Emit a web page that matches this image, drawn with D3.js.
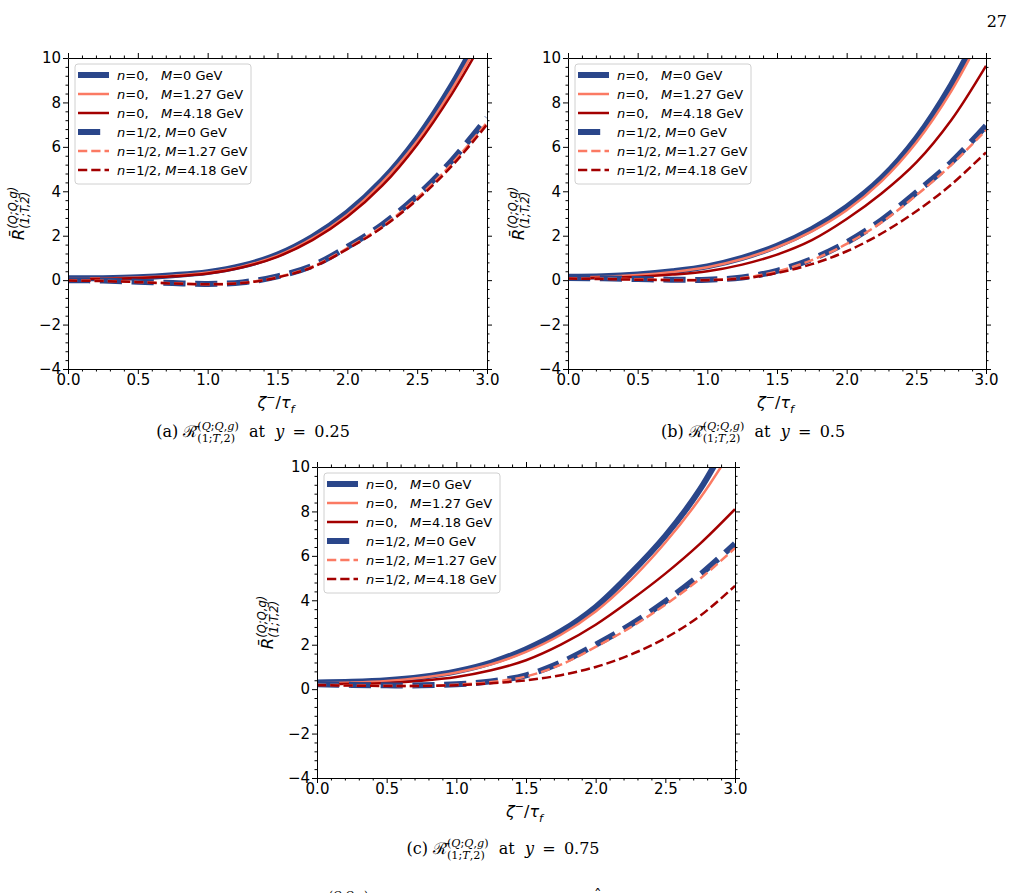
<!DOCTYPE html>
<html>
<head>
<meta charset="utf-8">
<script src="https://cdn.jsdelivr.net/npm/d3@7"></script>
<style>
  body { margin: 0; background: #fff; }
  svg { display: block; }
  text { white-space: pre; }
</style>
</head>
<body>
<svg id="fig" width="1013" height="893"></svg>
<script>
// zeta^- / tau_f grid shared by all curves
const xs = [0, 0.25, 0.5, 0.75, 1.0, 1.25, 1.5, 1.75, 2.0, 2.25, 2.5, 2.75, 3.0];

// (a) y = 0.25
const aN0M0    = [0.08, 0.09, 0.13, 0.22, 0.36, 0.65, 1.15, 1.95, 3.05, 4.5, 6.4, 8.8, 11.7];
const aN0M127  = [0.07, 0.08, 0.12, 0.2, 0.34, 0.62, 1.1, 1.88, 2.95, 4.4, 6.25, 8.6, 11.4];
const aN0M418  = [0.05, 0.06, 0.1, 0.17, 0.3, 0.58, 1.05, 1.8, 2.85, 4.25, 6.1, 8.4, 11.1];
const aN12M0   = [0.0, -0.02, -0.07, -0.13, -0.17, -0.1, 0.17, 0.65, 1.5, 2.5, 3.8, 5.4, 7.3];
const aN12M127 = [-0.01, -0.03, -0.08, -0.14, -0.18, -0.12, 0.14, 0.61, 1.44, 2.42, 3.7, 5.25, 7.1];
const aN12M418 = [-0.02, -0.04, -0.09, -0.15, -0.19, -0.13, 0.12, 0.58, 1.4, 2.37, 3.62, 5.15, 7.0];

// (b) y = 0.5
const bN0M0    = [0.15, 0.17, 0.25, 0.4, 0.62, 1.0, 1.55, 2.3, 3.3, 4.6, 6.4, 8.8, 11.8];
const bN0M127  = [0.13, 0.15, 0.23, 0.37, 0.58, 0.95, 1.48, 2.2, 3.15, 4.45, 6.2, 8.5, 11.4];
const bN0M418  = [0.1, 0.11, 0.15, 0.25, 0.4, 0.7, 1.15, 1.8, 2.75, 3.9, 5.3, 7.2, 9.65];
const bN12M0   = [0.1, 0.08, 0.05, 0.02, 0.02, 0.12, 0.42, 0.95, 1.7, 2.7, 3.95, 5.3, 6.95];
const bN12M127 = [0.08, 0.06, 0.04, 0.01, 0.01, 0.1, 0.39, 0.9, 1.63, 2.6, 3.82, 5.18, 6.75];
const bN12M418 = [0.07, 0.05, 0.02, 0.0, 0.0, 0.07, 0.32, 0.72, 1.3, 2.1, 3.1, 4.3, 5.75];

// (c) y = 0.75
const cN0M0    = [0.3, 0.33, 0.4, 0.55, 0.8, 1.2, 1.8, 2.6, 3.7, 5.2, 6.9, 9.0, 11.8];
const cN0M127  = [0.27, 0.3, 0.37, 0.51, 0.75, 1.12, 1.68, 2.45, 3.5, 4.9, 6.6, 8.6, 11.0];
const cN0M418  = [0.22, 0.24, 0.28, 0.38, 0.55, 0.85, 1.3, 2.0, 2.9, 4.0, 5.2, 6.55, 8.1];
const cN12M0   = [0.22, 0.19, 0.17, 0.17, 0.22, 0.35, 0.62, 1.2, 2.0, 2.9, 3.95, 5.15, 6.55];
const cN12M127 = [0.2, 0.17, 0.15, 0.15, 0.2, 0.32, 0.57, 1.1, 1.9, 2.78, 3.8, 4.97, 6.35];
const cN12M418 = [0.18, 0.16, 0.14, 0.14, 0.18, 0.26, 0.4, 0.63, 1.0, 1.55, 2.3, 3.3, 4.65];

const xTicks = [0, 0.5, 1.0, 1.5, 2.0, 2.5, 3.0];
const yTicks = [-4, -2, 0, 2, 4, 6, 8, 10];
const legendN = ["0", "0", "0", "1/2", "1/2", "1/2"];
const legendM = ["0", "1.27", "4.18", "0", "1.27", "4.18"];
const captionY = ["0.25", "0.5", "0.75"];
const captionTag = ["(a)", "(b)", "(c)"];

const blue = "#2a468a", salmon = "#fb7a63", dark = "#a30000";
const styles = [
  { color: blue,   width: 6,   dash: null },
  { color: salmon, width: 2.5, dash: null },
  { color: dark,   width: 2.5, dash: null },
  { color: blue,   width: 6,   dash: "22.2,9.6" },
  { color: salmon, width: 2.5, dash: "9.25,4" },
  { color: dark,   width: 2.5, dash: "9.25,4" }
];

const SANS = "DejaVu Sans", SERIF = "DejaVu Serif";
const svg = d3.select("#fig");

// writes a run of tspans; parts: {t, i: italic, s: "sup"|"sub", back: first sub part stacked under the sup run}
function mathText(parent, parts, size, family) {
  const t = parent.append("text").attr("font-size", size).style("font-family", family || SANS);
  let cur = 0, supRun = 0, subRun = 0, mode = null, stacked = false;
  parts.forEach(p => {
    const fs = p.s ? size * 0.7 : size;
    const target = p.s === "sup" ? -size * 0.42 : p.s === "sub" ? size * 0.3 : 0;
    const sp = t.append("tspan").text(p.t).attr("font-size", fs);
    if (p.i) sp.style("font-style", "italic");
    if (target !== cur) sp.attr("dy", target - cur);
    cur = target;
    let dx = 0;
    if (p.back) { dx -= supRun; subRun = 0; stacked = true; }
    else if (!p.s && stacked) { dx += Math.max(0, supRun - subRun); stacked = false; }
    if (dx) sp.attr("dx", dx);
    const len = sp.node().getComputedTextLength();
    if (p.s === "sup") { if (mode !== "sup") supRun = 0; supRun += len; }
    if (p.s === "sub") subRun += len;
    mode = p.s || null;
  });
  return t;
}

function centerText(t, cx, y) {
  const w = t.node().getBBox().width;
  t.attr("x", cx - w / 2).attr("y", y);
}

// superscript / subscript pieces of R^(Q;Q,g)_(1;T,2)
const supParts = [["(", 0], ["Q", 1], [";", 0], ["Q", 1], [",", 0], ["g", 1], [")", 0]];
const subParts = [["(1;", 0], ["T", 1], [",2)", 0]];
const scripts = () => [
  ...supParts.map(([t, i]) => ({ t, i, s: "sup" })),
  ...subParts.map(([t, i], k) => ({ t, i, s: "sub", back: k === 0 }))
];

const panels = [
  { data: [aN0M0, aN0M127, aN0M418, aN12M0, aN12M127, aN12M418], l: 68, r: 487, t: 58, b: 369, capX: 253, capY: 437 },
  { data: [bN0M0, bN0M127, bN0M418, bN12M0, bN12M127, bN12M418], l: 568, r: 986, t: 58, b: 369, capX: 753, capY: 437 },
  { data: [cN0M0, cN0M127, cN0M418, cN12M0, cN12M127, cN12M418], l: 317, r: 735, t: 467, b: 778, capX: 503, capY: 854 }
];

const yFmt = d => (d < 0 ? "\u2212" + Math.abs(d) : String(d));
const xFmt = d3.format(".1f");
const xMinor = d3.range(0, 3.0001, 0.1).map(v => +v.toFixed(2)).filter(v => !xTicks.some(t => Math.abs(t - v) < 1e-6));
const yMinor = d3.range(-4, 10.0001, 0.4).map(v => +v.toFixed(2)).filter(v => !yTicks.some(t => Math.abs(t - v) < 1e-6));

panels.forEach((p, pi) => {
  const g = svg.append("g");
  const x = d3.scaleLinear().domain([0, 3]).range([p.l, p.r]);
  const y = d3.scaleLinear().domain([-4, 10]).range([p.b, p.t]);

  const clipId = "clip" + pi;
  g.append("clipPath").attr("id", clipId)
    .append("rect").attr("x", p.l).attr("y", p.t).attr("width", p.r - p.l).attr("height", p.b - p.t);

  const line = d3.line().x(d => x(d[0])).y(d => y(d[1])).curve(d3.curveCatmullRom.alpha(0.5));
  const lines = g.append("g").attr("clip-path", `url(#${clipId})`);
  p.data.forEach((vals, si) => {
    const st = styles[si];
    lines.append("path")
      .attr("d", line(xs.map((v, i) => [v, vals[i]])))
      .attr("fill", "none")
      .attr("stroke", st.color)
      .attr("stroke-width", st.width)
      .attr("stroke-dasharray", st.dash);
  });

  // axes: major + minor on all four sides
  const axes = [
    [d3.axisBottom(x), `translate(0,${p.b})`, xTicks, xMinor, xFmt],
    [d3.axisTop(x), `translate(0,${p.t})`, xTicks, xMinor, null],
    [d3.axisLeft(y), `translate(${p.l},0)`, yTicks, yMinor, yFmt],
    [d3.axisRight(y), `translate(${p.r},0)`, yTicks, yMinor, null]
  ];
  axes.forEach(([ax, tr, major, minor, fmt], k) => {
    const gm = g.append("g").attr("transform", tr)
      .call(ax.tickValues(minor).tickSize(2.5).tickSizeOuter(0).tickFormat(""));
    gm.select(".domain").remove();
    const ga = g.append("g").attr("transform", tr)
      .call(ax.tickValues(major).tickSize(5).tickSizeOuter(0).tickPadding(2).tickFormat(fmt || ""));
    ga.select(".domain").attr("stroke", "#000");
    ga.selectAll("text").attr("font-size", 15).style("font-family", SANS).attr("fill", "#000");
    if (k === 0) ga.selectAll("text").attr("y", 5);
  });

  // x label
  const xl = mathText(g, [
    { t: "\u03b6", i: true }, { t: "\u2212", s: "sup" }, { t: "/" }, { t: "\u03c4", i: true }, { t: "f", i: true, s: "sub" }
  ], 16);
  centerText(xl, (p.l + p.r) / 2, p.b + 39);

  // y label
  const yg = g.append("g").attr("transform", `translate(${p.l - 44},${(p.t + p.b) / 2}) rotate(-90)`);
  const yl = mathText(yg, [
    { t: "R\u0304", i: true }, { t: "(Q;Q,g)", i: true, s: "sup" }, { t: "(1;T,2)", i: true, s: "sub", back: true }
  ], 16.5);
  centerText(yl, 0, 0);

  // legend
  const lx = p.l + 7, ly = p.t + 6;
  const lg = g.append("g");
  lg.append("rect").attr("x", lx).attr("y", ly).attr("width", 176).attr("height", 120)
    .attr("rx", 3).attr("fill", "#fff").attr("fill-opacity", 0.8).attr("stroke", "#d0d0d0");
  legendN.forEach((n, i) => {
    const st = styles[i];
    const cy = ly + 11 + i * 19;
    lg.append("line").attr("x1", lx + 3).attr("x2", lx + 34).attr("y1", cy).attr("y2", cy)
      .attr("stroke", st.color).attr("stroke-width", st.width).attr("stroke-dasharray", st.dash);
    const tx = mathText(lg, [
      { t: "n", i: true }, { t: "=" + n + (n === "0" ? ",   " : ", ") }, { t: "M", i: true }, { t: "=" + legendM[i] + " GeV" }
    ], 13);
    tx.attr("x", lx + 42).attr("y", cy + 4.5);
  });

  // caption
  const cap = mathText(svg, [
    { t: captionTag[pi] + " " }, { t: "\u211b\u0304" }, ...scripts(),
    { t: "  at  " }, { t: "y", i: true }, { t: " \u2009=\u2009 " + captionY[pi] }
  ], 16, SERIF);
  centerText(cap, p.capX, p.capY);
});

// page number
svg.append("text").attr("x", 1007).attr("y", 27).attr("text-anchor", "end")
  .style("font-family", SERIF).attr("font-size", 16).text("27");

// top of the next line of body text, cut by the page edge
const nextLine = mathText(svg, [{ t: "\u211b\u0304" }, ...supParts.map(([t, i]) => ({ t, i, s: "sup" }))], 15, SERIF);
nextLine.attr("x", 316).attr("y", 905);
svg.append("text").attr("x", 594).attr("y", 900).style("font-family", SERIF).attr("font-size", 15).text("\u02c6");
</script>
</body>
</html>
